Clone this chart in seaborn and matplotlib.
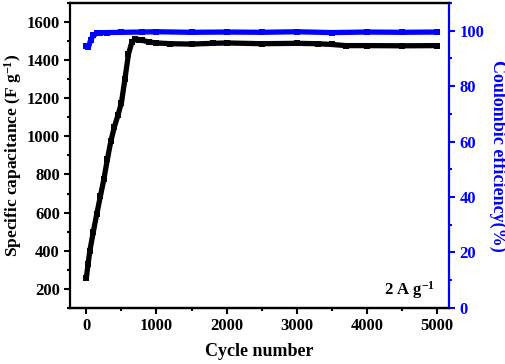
import matplotlib
matplotlib.use("Agg")
import matplotlib.pyplot as plt
import seaborn as sns
import pandas as pd
from matplotlib.ticker import MultipleLocator

# ---- data ----
cap_cycles = [0, 25, 50, 100, 150, 200, 250, 300, 350, 400, 450, 500, 550, 600,
              650, 700, 750, 800, 900, 1000, 1200, 1500, 1800, 2000, 2500, 3000,
              3300, 3500, 3700, 4000, 4500, 5000]
capacitance = [258, 330, 400, 500, 595, 685, 775, 880, 975, 1050, 1110, 1175, 1300, 1430,
               1495, 1510, 1508, 1503, 1495, 1490, 1486, 1484, 1488, 1490, 1486, 1488,
               1486, 1482, 1476, 1476, 1475, 1476]

ce_cycles = [0, 30, 60, 100, 150, 200, 300, 500, 800, 1000, 1500, 2000, 2500,
             3000, 3500, 4000, 4500, 5000]
efficiency = [94.5, 94.0, 96.5, 98.3, 99.0, 99.2, 99.3, 99.4, 99.5, 99.6, 99.4,
              99.5, 99.4, 99.6, 99.3, 99.5, 99.4, 99.5]

cap_df = pd.DataFrame({"Cycle": cap_cycles, "Cap": capacitance})
ce_df = pd.DataFrame({"Cycle": ce_cycles, "CE": efficiency})

sns.set_style("ticks")
plt.rcParams["font.family"] = ["Liberation Serif", "DejaVu Serif"]
plt.rcParams["font.weight"] = "bold"
plt.rcParams["axes.labelweight"] = "bold"
plt.rcParams["text.color"] = "black"
plt.rcParams["axes.labelcolor"] = "black"
plt.rcParams["xtick.color"] = "black"
plt.rcParams["ytick.color"] = "black"
plt.rcParams["axes.edgecolor"] = "black"
plt.rcParams["mathtext.fontset"] = "custom"
plt.rcParams["mathtext.rm"] = "Liberation Serif:bold"
plt.rcParams["mathtext.default"] = "rm"

fig = plt.figure(figsize=(5.05, 3.64), dpi=100)
ax = fig.add_axes([0.139, 0.154, 0.750, 0.838])
ax2 = ax.twinx()

sns.lineplot(data=cap_df, x="Cycle", y="Cap", ax=ax, color="black", linewidth=3.8,
             marker="s", markersize=4.5, markeredgewidth=0, solid_capstyle="butt")
sns.lineplot(data=ce_df, x="Cycle", y="CE", ax=ax2, color="#0000ff", linewidth=3.8,
             marker="s", markersize=4.5, markeredgewidth=0, solid_capstyle="butt")

ax.set_xlim(-230, 5170)
ax.set_ylim(100, 1700)
ax2.set_ylim(0, 110)

ax.xaxis.set_major_locator(MultipleLocator(1000))
ax.xaxis.set_minor_locator(MultipleLocator(500))
ax.yaxis.set_major_locator(MultipleLocator(200))
ax.yaxis.set_minor_locator(MultipleLocator(100))
ax2.yaxis.set_major_locator(MultipleLocator(20))
ax2.yaxis.set_minor_locator(MultipleLocator(10))

for a in (ax, ax2):
    for s in a.spines.values():
        s.set_linewidth(1.6)
        s.set_color("black")
ax.spines["right"].set_visible(False)
ax2.spines["left"].set_visible(False)
ax2.spines["right"].set_color("#0000ff")

ax.tick_params(axis="both", which="major", direction="out", length=4, width=1.5,
               labelsize=12, colors="black")
ax.tick_params(axis="both", which="minor", direction="out", length=2.5, width=1.5,
               colors="black")
ax2.tick_params(axis="y", which="major", direction="out", length=4, width=1.5,
                labelsize=12, colors="#0000ff")
ax2.tick_params(axis="y", which="minor", direction="out", length=2.5, width=1.5,
                colors="#0000ff")
for lab in ax.get_xticklabels() + ax.get_yticklabels() + ax2.get_yticklabels():
    lab.set_fontweight("bold")

ax.set_xlabel("Cycle number", fontsize=13, fontweight="bold", labelpad=6,
              color="black")
ax.set_ylabel("Specific capacitance (F g$^{-1}$)", fontsize=12.5, fontweight="bold",
              labelpad=2, color="black")
ax2.set_ylabel("Coulombic efficiency(%)", fontsize=13, fontweight="bold",
               color="#0000ff", rotation=270, labelpad=16)

ax.text(0.963, 0.06, "2 A g$^{-1}$", transform=ax.transAxes, ha="right",
        va="center", fontsize=12, fontweight="bold", color="black")

fig.savefig("out.png", dpi=100)
